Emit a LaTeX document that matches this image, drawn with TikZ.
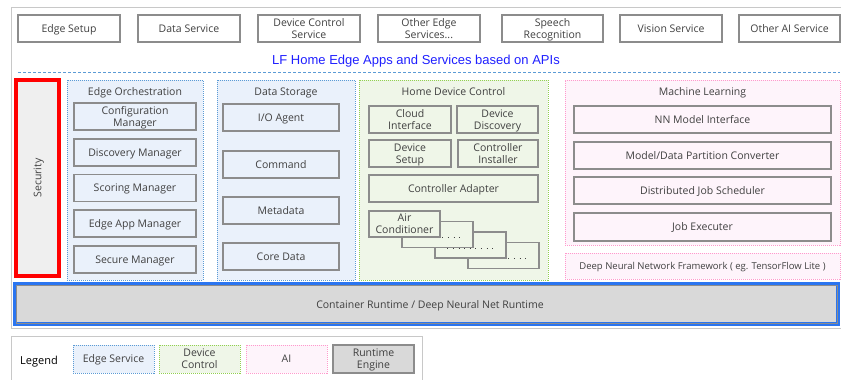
\documentclass[tikz,border=0pt]{standalone}
\usepackage{fontspec}
\setmainfont{Open Sans}
\newfontfamily\apifont{Liberation Sans}
\usetikzlibrary{positioning}

\definecolor{boxgray}{HTML}{8C8C8C}
\definecolor{txtgray}{HTML}{404040}
\definecolor{framegray}{HTML}{C8C8C8}
\definecolor{edgeblue}{HTML}{5B9BD5}
\definecolor{edgefill}{HTML}{EAF1FB}
\definecolor{ctrlgreen}{HTML}{92D050}
\definecolor{ctrlfill}{HTML}{EFF6E8}
\definecolor{aipink}{HTML}{FF99CC}
\definecolor{aifill}{HTML}{FEF4FB}
\definecolor{rtfill}{HTML}{D9D9D9}
\definecolor{rtblue}{HTML}{2A75F0}
\definecolor{secfill}{HTML}{EFEFEF}
\definecolor{apiblue}{HTML}{1F1FFF}

\begin{document}
\begin{tikzpicture}[x=1pt,y=-1pt,
  every node/.style={inner sep=0pt,text depth=0pt,text=txtgray,align=center,font=\fontsize{10.5}{12}\selectfont},
  sz/.style 2 args={minimum width=#1pt,minimum height=#2pt},
  box/.style={draw=boxgray,line width=1.3pt},
  topbox/.style={box,fill=white,sz={102}{27}},
  grp/.style={line width=1pt,dash pattern=on 1pt off 1pt},
  edgegrp/.style={grp,draw=edgeblue,fill=edgefill},
  ctrlgrp/.style={grp,draw=ctrlgreen,fill=ctrlfill},
  aigrp/.style={grp,draw=aipink,fill=aifill},
  rtbox/.style={draw=boxgray,line width=1.5pt,fill=rtfill},
  acdots/.style={draw=txtgray,line width=1pt,dash pattern=on 1pt off 4.6pt}]
\clip (0,0) rectangle (841,380);
\useasboundingbox (0,0) rectangle (841,380);

% outer frame
\draw[framegray,line width=1pt] (850,7) -- (11,7) -- (11,328) -- (850,328);

% apps and services
\node[topbox] (setup) at (69,28.5) {Edge Setup};
\node[topbox] (datasvc) at (189,28.5) {Data Service};
\node[topbox] (devsvc) at (309,28.5) {Device Control\\Service};
\node[topbox] (othedge) at (429,28.5) {Other Edge\\Services...};
\node[topbox,sz={101}{27}] (speech) at (552.5,28.5) {Speech\\Recognition};
\node[topbox] (vision) at (671,28.5) {Vision Service};
\node[topbox,sz={101}{27}] (othai) at (789.5,28.5) {Other AI Service};
\node[text=apiblue,font=\apifont\fontsize{13}{15}\selectfont] (apis) at (416,60) {LF Home Edge Apps and Services based on APIs};
\draw[edgeblue,line width=0.8pt,dash pattern=on 3pt off 2pt] (18,72) -- (840,72);

% security
\node[draw=red,line width=4pt,fill=secfill,rotate=90,sz={196}{43}] (sec) at (37.5,178) {Security};

% edge orchestration
\node[edgegrp,sz={136}{200}] (eo) at (135,180) {};
\node[below=8pt of eo.north] (eotitle) {Edge Orchestration};
\node[box,sz={122}{27}] (conf) at (135,116.5) {Configuration\\Manager};
\node[box,sz={122}{27}] (disc) at (135,152.5) {Discovery Manager};
\node[box,sz={122}{27}] (score) at (135,188) {Scoring Manager};
\node[box,sz={122}{27}] (appmgr) at (135,223.5) {Edge App Manager};
\node[box,sz={122}{27}] (secmgr) at (135,259.5) {Secure Manager};

% data storage
\node[edgegrp,sz={138}{200}] (ds) at (286,180) {};
\node[below=8pt of ds.north] (dstitle) {Data Storage};
\node[box,sz={116}{27}] (io) at (281,117.5) {I/O Agent};
\node[box,sz={116}{27}] (cmd) at (281,164.5) {Command};
\node[box,sz={116}{27}] (meta) at (281,210.5) {Metadata};
\node[box,sz={116}{27}] (core) at (281,256.5) {Core Data};

% home device control
\node[ctrlgrp,sz={189}{200}] (hdc) at (453.5,180) {};
\node[below=8pt of hdc.north] (hdctitle) {Home Device Control};
\node[box,sz={82}{27}] (cloud) at (410,119.5) {Cloud\\Interface};
\node[box,sz={81}{27}] (devdisc) at (497.5,119.5) {Device\\Discovery};
\node[box,sz={82}{27}] (devsetup) at (410,153.5) {Device\\Setup};
\node[box,sz={80}{27}] (inst) at (498,153.5) {Controller\\Installer};
\node[box,sz={169}{27}] (adapt) at (453.5,188.5) {Controller Adapter};
\foreach \i in {3,2,1}{
  \node[box,fill=ctrlfill,sz={71}{26}] (ac\i) at (404.5+33*\i,224+10.5*\i) {};
  \draw[acdots] ([shift={(13pt,10.5pt)}]ac\i.south west) -- ([shift={(-10pt,10.5pt)}]ac\i.south east);
}
\node[box,fill=ctrlfill,sz={71}{26}] (aircon) at (404.5,224) {Air\\Conditioner};

% machine learning
\node[aigrp,sz={275}{165}] (ml) at (702.5,162.5) {};
\node[below=8pt of ml.north] (mltitle) {Machine Learning};
\node[box,sz={257}{27}] (nnif) at (702.5,119.5) {NN Model Interface};
\node[box,sz={257}{27}] (part) at (702.5,155.5) {Model/Data Partition Converter};
\node[box,sz={257}{27}] (sched) at (702.5,190.5) {Distributed Job Scheduler};
\node[box,sz={257}{28}] (exec) at (702.5,227) {Job Executer};
\node[aigrp,sz={275}{26},font=\fontsize{9.5}{11}\selectfont] (dnn) at (702.5,266) {Deep Neural Network Framework ( eg. TensorFlow Lite )};

% runtime
\node[draw=rtblue,line width=4pt,fill=rtfill,sz={823}{40}] (run) at (426.5,304) {};
\draw[boxgray,line width=1pt] ([shift={(3pt,-3pt)}]run.north west) rectangle ([shift={(-3pt,3pt)}]run.south east);
\node[font=\fontsize{10.5}{12}\selectfont] (runtxt) at (430,305) {Container Runtime / Deep Neural Net Runtime};

% legend
\draw[framegray,line width=1pt] (11,390) -- (11,336) -- (422,336) -- (422,390);
\node[text=black,font=\fontsize{11}{13}\selectfont] (legend) at (39,360) {Legend};
\node[edgegrp,sz={81}{28}] (lgedge) at (113.5,359) {Edge Service};
\node[ctrlgrp,sz={81}{28}] (lgctrl) at (199.5,359) {Device\\Control};
\node[aigrp,sz={81}{28}] (lgai) at (286.5,359) {AI};
\node[rtbox,sz={81}{28}] (lgrt) at (373.5,359) {Runtime\\Engine};
\end{tikzpicture}
\end{document}
